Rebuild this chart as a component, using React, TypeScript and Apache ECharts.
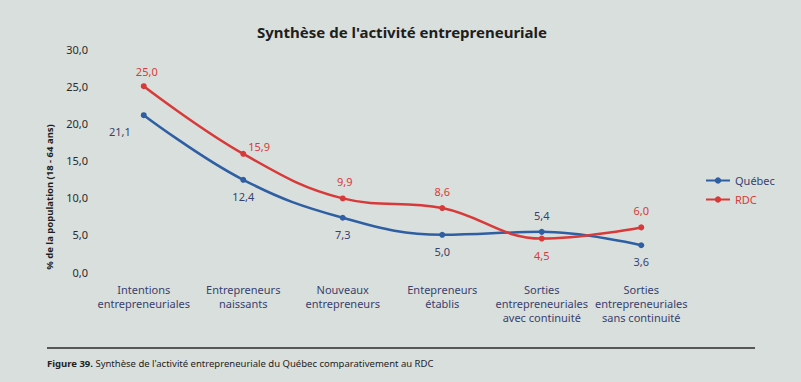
import React, { useEffect, useRef } from "react";
import * as echarts from "echarts";

const categories = [
  "Intentions\nentrepreneuriales",
  "Entrepreneurs\nnaissants",
  "Nouveaux\nentrepreneurs",
  "Entepreneurs\nétablis",
  "Sorties\nentrepreneuriales\navec continuité",
  "Sorties\nentrepreneuriales\nsans continuité",
];
const quebec = [21.1, 12.4, 7.3, 5.0, 5.4, 3.6];
const rdc = [25.0, 15.9, 9.9, 8.6, 4.5, 6.0];
const quebecLabelPos = ["left", "bottom", "bottom", "bottom", "top", "bottom"];
const quebecLabelOffset = [[-2, 16], [0, 0], [0, 0], [0, 0], [0, 0], [0, 0]];
const rdcLabelPos = ["top", "right", "top", "top", "bottom", "top"];
const rdcLabelOffset = [[3, 2], [-6, -7], [2, 0], [0, 0], [0, 0], [0, 0]];

const FONT = "'Noto Sans', 'Open Sans', sans-serif";
const fmt = (v: number) => v.toFixed(1).replace(".", ",");

export default function App() {
  const ref = useRef<HTMLDivElement>(null);
  useEffect(() => {
    const chart = echarts.init(ref.current!, undefined, { renderer: "svg" });
    chart.setOption({
      animation: false,
      backgroundColor: "#d9dfdc",
      textStyle: { fontFamily: FONT },
      title: {
        text: "Synthèse de l'activité entrepreneuriale",
        left: 397,
        top: 19,
        textAlign: "center",
        textStyle: { fontSize: 15, fontWeight: "bold", color: "#1e1e1e", fontFamily: FONT },
      },
      legend: {
        orient: "vertical",
        left: 700,
        top: 170,
        itemWidth: 24,
        itemHeight: 8,
        itemGap: 8,
        textStyle: { fontSize: 11, color: "#3a3f6e", fontFamily: FONT },
        data: [
          { name: "Québec", textStyle: { color: "#3a3f6e" } },
          { name: "RDC", textStyle: { color: "#d83a3a" } },
        ],
      },
      grid: { left: 94, right: 110, top: 49, bottom: 110, containLabel: false },
      xAxis: {
        type: "category",
        data: categories,
        boundaryGap: true,
        axisLine: { show: false },
        axisTick: { show: false },
        axisLabel: { color: "#3a3f6e", fontSize: 11, lineHeight: 14, margin: 10, interval: 0, fontFamily: FONT },
      },
      yAxis: {
        type: "value",
        min: 0,
        max: 30,
        interval: 5,
        axisLine: { show: false },
        axisTick: { show: false },
        splitLine: { show: false },
        axisLabel: { color: "#2b2b2b", fontSize: 11, margin: 6, formatter: (v: number) => fmt(v), fontFamily: FONT },
      },
      graphic: [
        {
          type: "text",
          x: 49,
          y: 197,
          rotation: Math.PI / 2,
          style: {
            text: "% de la population (18 - 64 ans)",
            fontSize: 9.5,
            fontWeight: "bold",
            fill: "#1e1e1e",
            fontFamily: FONT,
            align: "center",
            verticalAlign: "middle",
          },
        },
        {
          type: "line",
          shape: { x1: 47, y1: 348, x2: 755, y2: 348 },
          style: { stroke: "#2a2a2a", lineWidth: 1.6 },
        },
        {
          type: "text",
          x: 47,
          y: 363,
          style: {
            text: "{b|Figure 39.} Synthèse de l'activité entrepreneuriale du Québec comparativement au RDC",
            fontSize: 9.5,
            fill: "#222",
            fontFamily: FONT,
            verticalAlign: "middle",
            rich: {
              b: { fontWeight: "bold", fontSize: 9.5, fill: "#222", fontFamily: FONT },
            },
          },
        },
      ],
      series: [
        {
          name: "Québec",
          type: "line",
          smooth: 0.4,
          data: quebec.map((v, i) => ({
            value: v,
            label: { position: quebecLabelPos[i], offset: quebecLabelOffset[i] },
          })),
          color: "#2e5fa3",
          lineStyle: { width: 2.5, color: "#2e5fa3" },
          symbol: "circle",
          symbolSize: 6,
          itemStyle: { color: "#2e5fa3" },
          label: {
            show: true,
            color: "#3a3f6e",
            fontSize: 11,
            distance: 8,
            formatter: (p: any) => fmt(p.value),
          },
        },
        {
          name: "RDC",
          type: "line",
          smooth: 0.4,
          data: rdc.map((v, i) => ({
            value: v,
            label: { position: rdcLabelPos[i], offset: rdcLabelOffset[i] },
          })),
          color: "#d83a3a",
          lineStyle: { width: 2.5, color: "#d83a3a" },
          symbol: "circle",
          symbolSize: 6,
          itemStyle: { color: "#d83a3a" },
          label: {
            show: true,
            color: "#d83a3a",
            fontSize: 11,
            distance: 8,
            formatter: (p: any) => fmt(p.value),
          },
        },
      ],
    });
    return () => chart.dispose();
  }, []);
  return <div ref={ref} style={{ width: 801, height: 382, position: "absolute", left: 0, top: 0 }} />;
}
